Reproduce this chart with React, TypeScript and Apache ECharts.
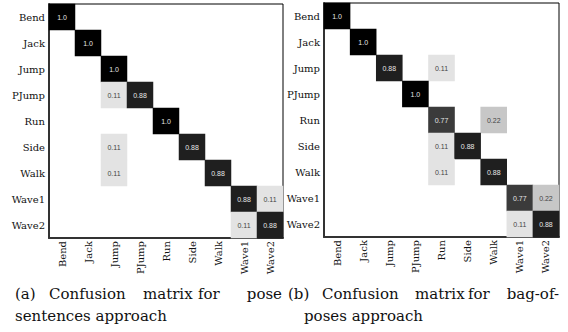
import React, { useEffect, useRef } from "react";
import * as echarts from "echarts";

const classes = ["Bend", "Jack", "Jump", "PJump", "Run", "Side", "Walk", "Wave1", "Wave2"];

// rows = true class (top to bottom), columns = predicted class (left to right)
const poseSentencesMatrix: number[][] = [
  [1.0, 0, 0, 0, 0, 0, 0, 0, 0],
  [0, 1.0, 0, 0, 0, 0, 0, 0, 0],
  [0, 0, 1.0, 0, 0, 0, 0, 0, 0],
  [0, 0, 0.11, 0.88, 0, 0, 0, 0, 0],
  [0, 0, 0, 0, 1.0, 0, 0, 0, 0],
  [0, 0, 0.11, 0, 0, 0.88, 0, 0, 0],
  [0, 0, 0.11, 0, 0, 0, 0.88, 0, 0],
  [0, 0, 0, 0, 0, 0, 0, 0.88, 0.11],
  [0, 0, 0, 0, 0, 0, 0, 0.11, 0.88],
];

const bagOfPosesMatrix: number[][] = [
  [1.0, 0, 0, 0, 0, 0, 0, 0, 0],
  [0, 1.0, 0, 0, 0, 0, 0, 0, 0],
  [0, 0, 0.88, 0, 0.11, 0, 0, 0, 0],
  [0, 0, 0, 1.0, 0, 0, 0, 0, 0],
  [0, 0, 0, 0, 0.77, 0, 0.22, 0, 0],
  [0, 0, 0, 0, 0.11, 0.88, 0, 0, 0],
  [0, 0, 0, 0, 0.11, 0, 0.88, 0, 0],
  [0, 0, 0, 0, 0, 0, 0, 0.77, 0.22],
  [0, 0, 0, 0, 0, 0, 0, 0.11, 0.88],
];

const captionA1 = ["(a)", "Confusion", "matrix", "for", "pose"];
const captionA2 = "sentences approach";
const captionB1 = ["(b)", "Confusion", "matrix", "for", "bag-of-"];
const captionB2 = "poses approach";

const SERIF = "DejaVu Serif";

function toData(m: number[][]) {
  const out: any[] = [];
  m.forEach((row, r) =>
    row.forEach((v, c) => {
      if (v > 0) {
        out.push({
          value: [c, r, v],
          label: { color: v > 0.5 ? "#e6e6e6" : "#444444" },
        });
      }
    })
  );
  return out;
}

function fmt(v: number) {
  return v === 1 ? "1.0" : v.toFixed(2);
}

export default function App() {
  const ref = useRef<HTMLDivElement>(null);
  useEffect(() => {
    if (!ref.current) return;
    const chart = echarts.init(ref.current, undefined, { renderer: "svg" });
    const grids = [
      { left: 49, top: 4, width: 234, height: 234 },
      { left: 324, top: 3, width: 235, height: 234 },
    ].map((g) => ({
      ...g,
      show: true,
      borderColor: "#000",
      borderWidth: 1,
      backgroundColor: "#fff",
    }));
    const xAxes = [0, 1].map((i) => ({
      type: "category",
      gridIndex: i,
      data: classes,
      axisLine: { show: true, lineStyle: { color: "#333", width: 2 } },
      axisTick: { show: false },
      splitLine: { show: false },
      axisLabel: {
        rotate: 90,
        interval: 0,
        margin: 3,
        fontFamily: SERIF,
        fontSize: 10,
        color: "#111",
      },
    }));
    const yAxes = [0, 1].map((i) => ({
      type: "category",
      gridIndex: i,
      data: classes,
      inverse: true,
      axisLine: { show: true, lineStyle: { color: "#333", width: 2 } },
      axisTick: { show: false },
      splitLine: { show: false },
      axisLabel: {
        interval: 0,
        margin: 4,
        fontFamily: SERIF,
        fontSize: 10,
        color: "#111",
      },
    }));
    const series = [poseSentencesMatrix, bagOfPosesMatrix].map((m, i) => ({
      type: "heatmap",
      xAxisIndex: i,
      yAxisIndex: i,
      data: toData(m),
      label: {
        show: true,
        fontSize: 7,
        fontFamily: "Liberation Sans",
        formatter: (p: any) => fmt(p.value[2]),
      },
      itemStyle: { borderWidth: 0 },
      emphasis: { disabled: true },
    }));

    const capStyle = { fontFamily: SERIF, fontSize: 15, fill: "#111" };
    const line = (words: string[], xs: number[], lastRight: number, y: number) =>
      words.map((w, k) => ({
        type: "text",
        x: k === words.length - 1 ? lastRight : xs[k],
        y,
        style: {
          ...capStyle,
          text: w,
          align: k === words.length - 1 ? "right" : "left",
          verticalAlign: "middle",
        },
      }));

    const graphic = [
      ...line(captionA1, [15, 49, 143, 198], 282, 293.5),
      { type: "text", x: 15, y: 316, style: { ...capStyle, text: captionA2, align: "left", verticalAlign: "middle" } },
      ...line(captionB1, [288, 322, 415, 468], 559, 293.5),
      { type: "text", x: 304, y: 316, style: { ...capStyle, text: captionB2, align: "left", verticalAlign: "middle" } },
    ];

    chart.setOption({
      animation: false,
      backgroundColor: "#fff",
      grid: grids,
      xAxis: xAxes,
      yAxis: yAxes,
      visualMap: {
        show: false,
        min: 0,
        max: 1,
        seriesIndex: [0, 1],
        dimension: 2,
        inRange: { color: ["#ffffff", "#000000"] },
      },
      series,
      graphic,
    } as any);
    return () => chart.dispose();
  }, []);
  return (
    <div
      ref={ref}
      style={{ position: "fixed", left: 0, top: 0, width: 568, height: 332, background: "#fff" }}
    />
  );
}
